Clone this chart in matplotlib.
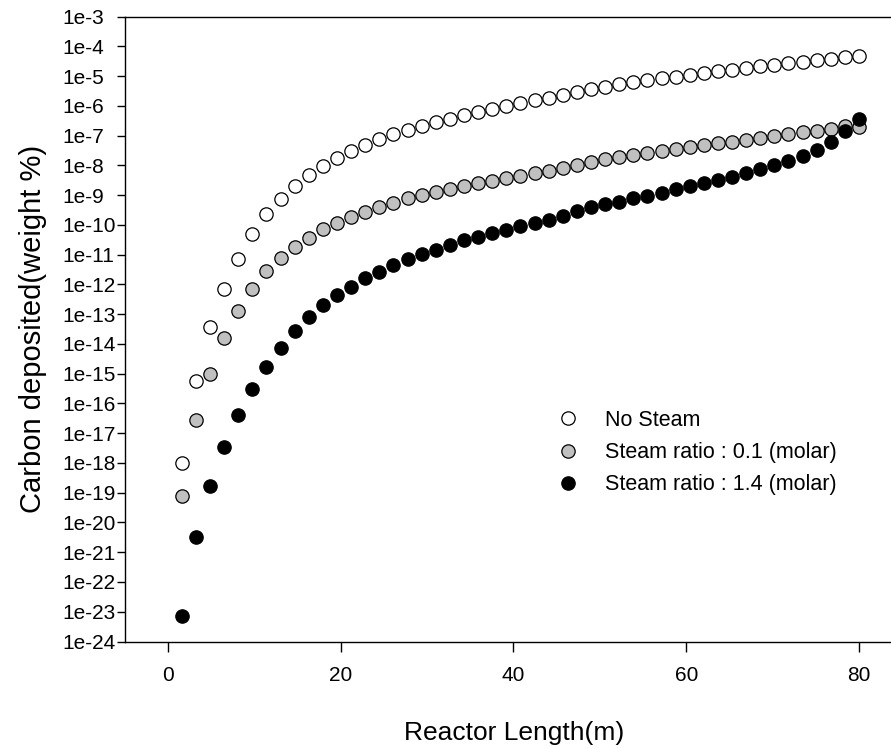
import numpy as np
import matplotlib.pyplot as plt

plt.rcParams['font.family'] = ['Liberation Sans', 'DejaVu Sans']

# reactor positions (m): 50 grid nodes from 0 to 80, first node has no deposit
length = np.linspace(0, 80, 50)[1:]

# log10 of carbon deposited (weight %)
log_no_steam = [
    -18.00, -15.23, -13.42, -12.14, -11.13, -10.30, -9.64, -9.12, -8.68, -8.31,
    -8.02, -7.74, -7.50, -7.31, -7.12, -6.95, -6.81, -6.67, -6.54, -6.43,
    -6.31, -6.20, -6.10, -6.00, -5.90, -5.81, -5.73, -5.62, -5.53, -5.43,
    -5.35, -5.27, -5.20, -5.13, -5.07, -5.01, -4.95, -4.89, -4.83, -4.78,
    -4.72, -4.66, -4.61, -4.56, -4.51, -4.46, -4.41, -4.36, -4.32]
log_steam_01 = [
    -19.12, -16.56, -15.00, -13.80, -12.88, -12.14, -11.55, -11.10, -10.75, -10.44,
    -10.15, -9.92, -9.72, -9.55, -9.39, -9.25, -9.10, -8.99, -8.88, -8.80,
    -8.69, -8.60, -8.51, -8.43, -8.35, -8.26, -8.19, -8.07, -7.98, -7.88,
    -7.79, -7.71, -7.65, -7.57, -7.50, -7.43, -7.37, -7.31, -7.26, -7.20,
    -7.13, -7.07, -7.01, -6.95, -6.89, -6.83, -6.76, -6.68, -6.70]
log_steam_14 = [
    -23.13, -20.50, -18.76, -17.45, -16.40, -15.51, -14.78, -14.12, -13.58, -13.08,
    -12.70, -12.37, -12.08, -11.79, -11.57, -11.35, -11.15, -10.99, -10.84, -10.67,
    -10.52, -10.39, -10.28, -10.17, -10.04, -9.92, -9.83, -9.70, -9.53, -9.41,
    -9.30, -9.22, -9.10, -9.02, -8.92, -8.80, -8.69, -8.60, -8.49, -8.38,
    -8.24, -8.13, -7.98, -7.84, -7.68, -7.48, -7.22, -6.83, -6.44]

series_labels = ['No Steam', 'Steam ratio : 0.1 (molar)', 'Steam ratio : 1.4 (molar)']
fills = ['white', '#c0c0c0', 'black']
decades = list(range(3, 25))

fig = plt.figure(figsize=(8.91, 7.49), dpi=100)
ax = fig.add_axes([124.5 / 891, 1 - 641.5 / 749, 1 - 124.5 / 891, (641.5 - 16.7) / 749])

for logs, lab, fc in zip([log_no_steam, log_steam_01, log_steam_14], series_labels, fills):
    ax.plot(length, 10.0 ** np.array(logs), ls='none', marker='o', ms=9.6,
            mfc=fc, mec='black', mew=0.9, label=lab, clip_on=False)

ax.set_yscale('log')
ax.set_ylim(1e-24, 1e-3)
ax.set_xlim(-5, 83.7)
ax.set_yticks([10.0 ** -d for d in decades])
ax.set_yticklabels([f'1e-{d}' for d in decades])
ax.yaxis.set_minor_locator(plt.NullLocator())
ax.set_xticks([0, 20, 40, 60, 80])

ax.spines['right'].set_visible(False)
for s in ['left', 'bottom', 'top']:
    ax.spines[s].set_linewidth(1.0)

ax.tick_params(axis='y', length=6, width=1.0, pad=39, labelsize=15)
ax.tick_params(axis='x', length=7, width=1.0, pad=10.5, labelsize=15)
for lbl in ax.get_yticklabels():
    lbl.set_horizontalalignment('left')

ax.set_xlabel('Reactor Length(m)', fontsize=19)
ax.set_ylabel('Carbon deposited(weight %)', fontsize=21)
ax.xaxis.set_label_coords(0.508, -0.128)
ax.yaxis.set_label_coords(-0.101, 0.5)

ax.legend(loc='upper left', bbox_to_anchor=(557 / 891, 1 - 410 / 749),
          bbox_transform=fig.transFigure, frameon=False, fontsize=15.5,
          handlelength=1.0, handletextpad=1.22, labelspacing=0.52,
          borderpad=0, borderaxespad=0)

fig.savefig('out.png', dpi=100)
